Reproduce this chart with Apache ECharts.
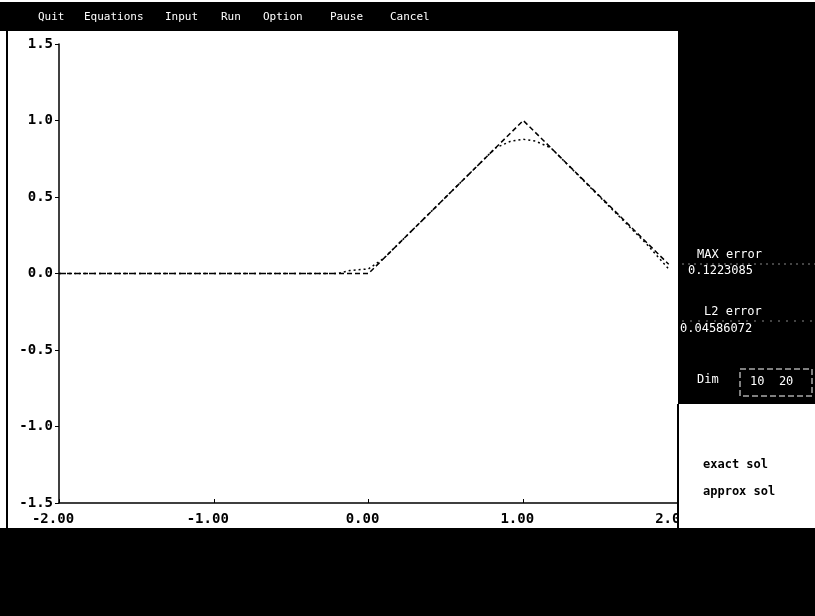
<!DOCTYPE html>
<html>
<head>
<meta charset="utf-8">
<script src="https://cdn.jsdelivr.net/npm/echarts@6/dist/echarts.min.js"></script>
<style>
  html, body { margin: 0; padding: 0; background: #fff; }
  #chart { width: 815px; height: 616px; }
</style>
</head>
<body>
<div id="chart"></div>
<script>
// exact solution (hat function) and approximate solution
const exactX = [-2, 0, 1, 1.94]
const exactY = [0, 0, 1, 0.06]
const approxX = [-2, -0.2, -0.12, 0, 0.1, 0.82, 0.92, 1.0, 1.08, 1.18, 1.8, 1.94]
const approxY = [0, 0, 0.02, 0.03, 0.1, 0.82, 0.865, 0.877, 0.865, 0.82, 0.19, 0.03]

const menuItems = ['Quit', 'Equations', 'Input', 'Run', 'Option', 'Pause', 'Cancel']
const menuPos = [38, 84, 165, 221, 263, 330, 390]

const maxError = '0.1223085'
const l2Error = '0.04586072'
const dims = '10  20'

const mono = '"DejaVu Sans Mono", monospace'

const chart = echarts.init(document.getElementById('chart'))

const pairs = (xs, ys) => xs.map((x, i) => [x, ys[i]])

const menuText = menuItems.map((t, i) => ({
  type: 'text', left: menuPos[i], top: 12, z: 20,
  style: { text: t, fill: '#fff', font: '11px ' + mono }
}))

chart.setOption({
  backgroundColor: '#fff',
  animation: false,
  grid: { left: 59, right: 137, top: 44, bottom: 113 },
  xAxis: {
    type: 'value', min: -2, max: 2, interval: 1,
    axisLine: { onZero: false, lineStyle: { color: '#000', width: 1.5 } },
    axisTick: { inside: true, length: 4, lineStyle: { color: '#000' } },
    splitLine: { show: false },
    axisLabel: {
      color: '#000', margin: 9, padding: [0, 12, 0, 0],
      fontFamily: 'DejaVu Sans Mono', fontWeight: 'bold', fontSize: 14,
      formatter: v => v.toFixed(2)
    }
  },
  yAxis: {
    type: 'value', min: -1.5, max: 1.5, interval: 0.5,
    axisLine: { show: true, onZero: false, lineStyle: { color: '#000', width: 1.5 } },
    axisTick: { show: true, length: 4, lineStyle: { color: '#000' } },
    splitLine: { show: false },
    axisLabel: {
      color: '#000', margin: 6,
      fontFamily: 'DejaVu Sans Mono', fontWeight: 'bold', fontSize: 14,
      formatter: v => v.toFixed(1)
    }
  },
  series: [
    {
      name: 'exact sol', type: 'line', data: pairs(exactX, exactY),
      showSymbol: false, lineStyle: { color: '#000', width: 1.5, type: [5, 3] }
    },
    {
      name: 'approx sol', type: 'line', data: pairs(approxX, approxY),
      showSymbol: false, lineStyle: { color: '#000', width: 1.5, type: [2, 3] }
    }
  ],
  graphic: [
    // menu bar
    { type: 'rect', shape: { x: 0, y: 2, width: 815, height: 29 }, style: { fill: '#000' }, z: 10 },
    ...menuText,
    // left border
    { type: 'rect', shape: { x: 6, y: 30, width: 2, height: 500 }, style: { fill: '#000' }, z: 10 },
    // right info panel
    { type: 'rect', shape: { x: 678, y: 30, width: 137, height: 375 }, style: { fill: '#000' }, z: 10 },
    { type: 'rect', shape: { x: 679, y: 404, width: 136, height: 124 }, style: { fill: '#fff' }, z: 10 },
    { type: 'rect', shape: { x: 677, y: 404, width: 2, height: 124 }, style: { fill: '#000' }, z: 11 },
    { type: 'text', left: 697, top: 249, z: 20, style: { text: 'MAX error', fill: '#fff', font: '12px ' + mono } },
    { type: 'line', shape: { x1: 682, y1: 264, x2: 815, y2: 264 }, style: { stroke: '#888', lineDash: [2, 4] }, z: 20 },
    { type: 'text', left: 688, top: 265, z: 20, style: { text: maxError, fill: '#fff', font: '12px ' + mono } },
    { type: 'text', left: 704, top: 306, z: 20, style: { text: 'L2 error', fill: '#fff', font: '12px ' + mono } },
    { type: 'line', shape: { x1: 682, y1: 321, x2: 815, y2: 321 }, style: { stroke: '#888', lineDash: [2, 6] }, z: 20 },
    { type: 'text', left: 680, top: 323, z: 20, style: { text: l2Error, fill: '#fff', font: '12px ' + mono } },
    { type: 'text', left: 697, top: 374, z: 20, style: { text: 'Dim', fill: '#fff', font: '12px ' + mono } },
    { type: 'rect', shape: { x: 740, y: 369, width: 72, height: 27 }, style: { fill: null, stroke: '#fff', lineWidth: 1, lineDash: [6, 3] }, z: 20 },
    { type: 'text', left: 750, top: 376, z: 20, style: { text: dims, fill: '#fff', font: '12px ' + mono } },
    // legend texts
    { type: 'text', left: 703, top: 459, z: 20, style: { text: 'exact sol', fill: '#000', font: 'bold 12px ' + mono } },
    { type: 'text', left: 703, top: 486, z: 20, style: { text: 'approx sol', fill: '#000', font: 'bold 12px ' + mono } },
    // bottom status area
    { type: 'rect', shape: { x: 0, y: 528, width: 815, height: 88 }, style: { fill: '#000' }, z: 10 }
  ]
})
</script>
</body>
</html>
